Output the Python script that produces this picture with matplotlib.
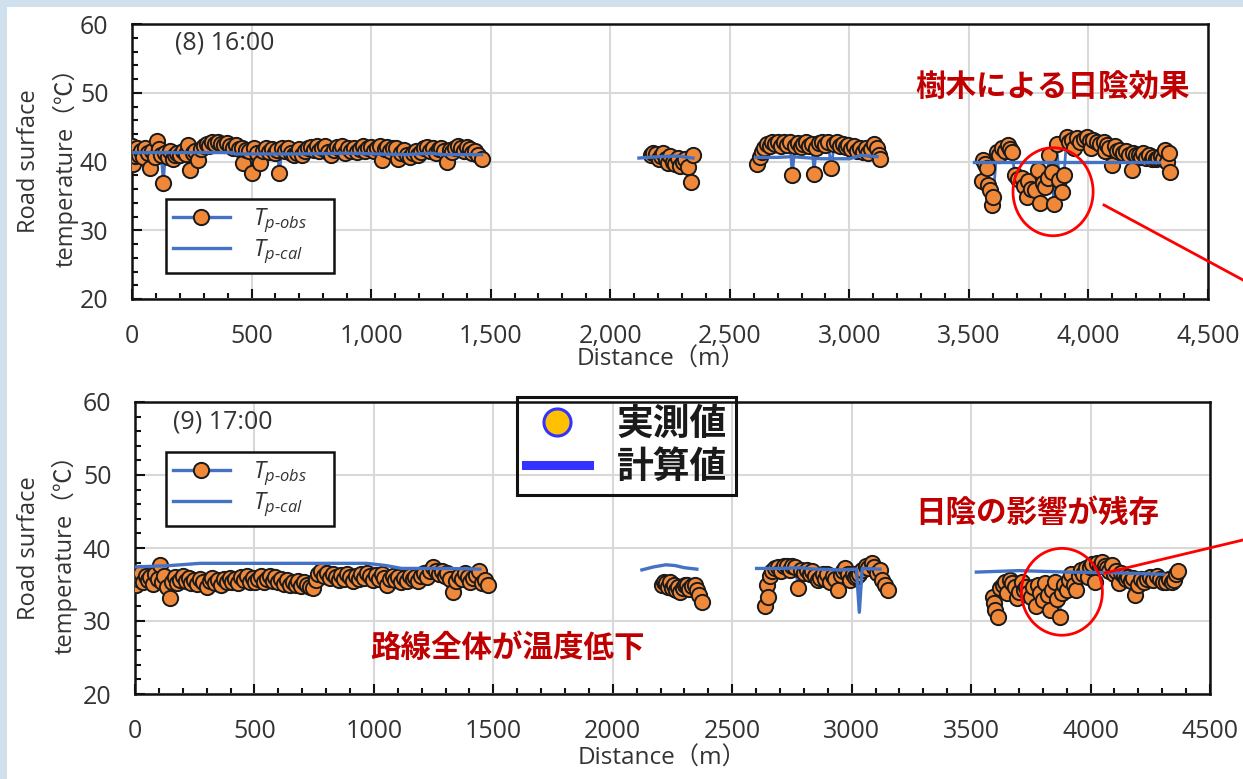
import numpy as np
import matplotlib
matplotlib.use("Agg")
import matplotlib.pyplot as plt
from matplotlib.lines import Line2D
from matplotlib.patches import Ellipse, Rectangle
from matplotlib.ticker import MultipleLocator, FuncFormatter

plt.rcParams['font.family'] = ['Open Sans', 'Noto Sans CJK JP', 'DejaVu Sans']
plt.rcParams['mathtext.fontset'] = 'custom'
plt.rcParams['mathtext.rm'] = 'Open Sans'
plt.rcParams['mathtext.it'] = 'Open Sans:italic'

# ---- road surface temperature, 16:00 (distance m, deg C), one list per road section ----
obs16 = [
    [(0, 42.2), (5, 39.7), (12, 40.8), (20, 42.0), (28, 41.0), (36, 41.6), (45, 40.6), (55, 41.9),
     (65, 41.2), (75, 39.0), (85, 41.5), (95, 40.6), (103, 43.0), (112, 41.8), (122, 40.9), (131, 36.9),
     (140, 41.2), (150, 40.6), (160, 41.5), (170, 40.3), (180, 41.0), (190, 41.3), (200, 40.9), (212, 41.5),
     (224, 41.1), (236, 42.4), (243, 38.8), (255, 41.2), (265, 41.6), (276, 40.2), (288, 41.8), (300, 42.3),
     (312, 42.6), (324, 42.2), (336, 42.8), (348, 42.5), (360, 42.9), (372, 42.6), (384, 42.4), (396, 42.7),
     (410, 42.2), (422, 41.9), (434, 42.4), (446, 41.8), (458, 42.0), (466, 39.8), (478, 41.7), (490, 41.5),
     (500, 38.3), (512, 41.9), (524, 41.3), (535, 39.8), (547, 41.6), (560, 42.0), (572, 41.4), (584, 41.8),
     (596, 41.3), (608, 41.7), (616, 38.3), (628, 41.9), (640, 41.5), (652, 42.0), (664, 41.3), (676, 40.9),
     (688, 41.2), (700, 41.8), (712, 41.0), (724, 41.5), (736, 41.9), (748, 42.1), (760, 41.7), (772, 42.2),
     (784, 41.6), (796, 42.0), (808, 42.3), (820, 41.4), (832, 40.9), (844, 41.7), (856, 42.1), (868, 41.8),
     (880, 42.2), (892, 41.3), (904, 41.9), (916, 41.6), (928, 42.0), (940, 41.4), (952, 41.8), (964, 42.2),
     (976, 41.5), (988, 41.9), (1000, 42.1), (1012, 41.6), (1024, 41.9), (1036, 42.2), (1044, 40.2),
     (1056, 41.8), (1068, 42.1), (1080, 41.5), (1092, 41.9), (1104, 42.0), (1114, 40.3), (1126, 41.2),
     (1138, 41.7), (1150, 41.0), (1162, 40.6), (1174, 41.2), (1186, 41.6), (1198, 41.0), (1210, 41.4),
     (1222, 41.9), (1234, 42.1), (1246, 41.6), (1258, 42.0), (1270, 41.3), (1282, 41.8), (1294, 42.0),
     (1306, 41.5), (1316, 40.0), (1328, 41.7), (1340, 41.4), (1352, 41.9), (1364, 42.2), (1376, 42.0),
     (1388, 41.6), (1400, 42.1), (1412, 41.8), (1424, 41.2), (1436, 41.5), (1448, 40.9), (1462, 40.4)],
    [(2170, 40.9), (2180, 41.3), (2192, 41.1), (2202, 40.3), (2212, 40.8), (2222, 41.3), (2232, 40.4),
     (2242, 39.8), (2252, 40.8), (2262, 40.0), (2272, 39.6), (2282, 40.5), (2292, 39.4), (2304, 39.9),
     (2314, 40.3), (2324, 39.2), (2336, 37.0), (2346, 40.9)],
    [(2615, 39.7), (2625, 40.6), (2635, 41.4), (2645, 42.0), (2655, 42.6), (2667, 42.2), (2678, 42.9),
     (2690, 42.5), (2702, 42.9), (2714, 42.3), (2726, 42.8), (2738, 42.4), (2750, 42.9), (2762, 38.0),
     (2772, 42.2), (2784, 42.7), (2796, 42.1), (2808, 42.6), (2820, 42.9), (2832, 42.3), (2844, 42.6),
     (2852, 38.2), (2862, 42.0), (2874, 42.7), (2886, 42.9), (2898, 42.4), (2910, 42.8), (2925, 39.1),
     (2936, 42.5), (2948, 42.9), (2960, 42.3), (2972, 42.6), (2984, 42.1), (2996, 42.4), (3008, 41.8),
     (3020, 42.2), (3032, 41.6), (3044, 42.0), (3056, 41.4), (3068, 41.9), (3080, 41.3), (3092, 41.8),
     (3104, 42.6), (3114, 42.0), (3122, 40.9), (3128, 40.3)],
    [(3553, 37.1), (3561, 40.2), (3568, 39.6), (3575, 39.0), (3581, 36.6), (3588, 35.8), (3595, 33.7),
     (3602, 34.9), (3616, 41.4), (3627, 41.0), (3637, 41.9), (3650, 41.6), (3665, 42.4), (3672, 41.8),
     (3679, 41.4), (3693, 38.0), (3705, 37.4), (3721, 37.6), (3731, 36.5), (3741, 34.8), (3749, 37.1),
     (3760, 36.0), (3777, 35.9), (3790, 38.8), (3798, 34.0), (3810, 36.9), (3818, 36.3), (3830, 37.6),
     (3833, 40.9), (3846, 38.5), (3856, 33.8), (3867, 42.6), (3878, 37.3), (3888, 35.5), (3898, 38.0),
     (3909, 43.6), (3920, 42.8), (3930, 43.2), (3940, 41.9), (3951, 43.4), (3965, 42.9), (3980, 43.3),
     (3993, 43.6), (4005, 43.0), (4010, 42.0), (4020, 43.2), (4035, 42.9), (4050, 42.6), (4063, 42.9),
     (4070, 41.5), (4077, 42.4), (4088, 42.0), (4098, 39.5), (4110, 42.2), (4120, 41.6), (4132, 41.7),
     (4145, 41.3), (4158, 41.5), (4170, 41.0), (4181, 38.8), (4188, 41.2), (4200, 40.9), (4212, 41.0),
     (4220, 40.6), (4230, 41.2), (4242, 40.5), (4255, 40.9), (4265, 40.4), (4272, 40.7), (4282, 40.3),
     (4292, 40.5), (4302, 40.8), (4310, 40.4), (4321, 41.7), (4328, 40.0), (4335, 41.2), (4342, 38.5)],
]
cal16 = [
    [(0, 41.3), (120, 41.3), (300, 41.3), (420, 41.3), (430, 41.1), (700, 41.1), (900, 41.2),
     (1150, 41.0), (1250, 41.2), (1300, 41.0), (1462, 41.0)],
    [(2120, 40.5), (2200, 40.7), (2280, 40.8), (2346, 40.5)],
    [(2610, 40.6), (2700, 40.6), (2760, 40.7), (2880, 40.4), (3000, 40.4), (3050, 40.9), (3116, 40.7)],
    [(3522, 40.0), (3700, 40.0), (3900, 40.0), (4100, 40.0), (4296, 40.0)],
]

# ---- road surface temperature, 17:00 ----
obs17 = [
    [(0, 36.3), (5, 34.9), (14, 35.8), (24, 36.6), (34, 35.4), (44, 36.2), (54, 35.6), (64, 36.0),
     (74, 35.1), (84, 36.4), (95, 35.7), (105, 37.7), (114, 35.3), (122, 36.1), (132, 34.6), (146, 33.1),
     (156, 35.4), (166, 36.0), (176, 35.2), (188, 35.6), (200, 36.2), (212, 35.5), (224, 35.9), (236, 35.2),
     (248, 35.6), (260, 35.1), (272, 35.8), (286, 35.3), (300, 34.7), (312, 35.5), (324, 35.9), (336, 35.2),
     (348, 35.6), (360, 35.0), (372, 35.7), (384, 35.4), (396, 35.9), (408, 35.3), (420, 35.8), (432, 35.2),
     (444, 36.0), (456, 35.6), (468, 36.2), (480, 35.4), (492, 35.9), (504, 35.3), (516, 35.7), (528, 36.1),
     (540, 35.4), (552, 35.8), (564, 36.2), (576, 35.5), (588, 36.0), (600, 35.3), (612, 35.7), (624, 35.1),
     (636, 35.6), (648, 34.9), (660, 35.4), (672, 35.0), (684, 35.5), (696, 34.8), (708, 35.3), (720, 35.0),
     (732, 34.6), (744, 34.5), (756, 35.6), (768, 36.4), (780, 36.8), (792, 36.2), (804, 36.6), (816, 35.9),
     (828, 36.5), (840, 36.0), (852, 35.6), (864, 36.3), (876, 35.8), (888, 36.4), (900, 36.0), (912, 35.5),
     (924, 36.2), (936, 35.7), (948, 36.4), (960, 35.9), (972, 36.6), (984, 36.1), (996, 35.6), (1008, 36.3),
     (1020, 35.8), (1032, 36.4), (1044, 35.9), (1054, 34.9), (1066, 35.7), (1078, 36.2), (1090, 35.6),
     (1102, 36.0), (1114, 35.4), (1126, 35.9), (1138, 35.5), (1150, 36.1), (1162, 35.7), (1174, 36.0),
     (1186, 35.5), (1198, 36.2), (1210, 36.6), (1222, 36.0), (1234, 36.8), (1248, 37.4), (1260, 36.9),
     (1272, 36.4), (1284, 36.9), (1296, 36.2), (1308, 36.6), (1320, 35.8), (1333, 34.0), (1344, 35.5),
     (1356, 36.1), (1368, 35.7), (1380, 36.6), (1392, 36.0), (1404, 35.4), (1416, 35.9), (1428, 36.3),
     (1440, 36.8), (1451, 35.2), (1466, 35.6), (1479, 34.9)],
    [(2205, 35.0), (2215, 35.4), (2222, 35.2), (2232, 34.7), (2240, 35.4), (2247, 34.5), (2257, 34.9),
     (2265, 34.2), (2274, 34.6), (2282, 34.0), (2292, 34.5), (2302, 34.9), (2310, 35.0), (2320, 34.4),
     (2330, 34.8), (2345, 35.0), (2352, 34.3), (2359, 33.6), (2372, 32.6)],
    [(2637, 32.0), (2644, 35.0), (2651, 33.3), (2658, 36.1), (2668, 36.8), (2680, 37.3), (2693, 37.4),
     (2705, 36.9), (2716, 37.6), (2728, 37.6), (2740, 37.0), (2752, 37.5), (2763, 37.4), (2777, 34.5),
     (2788, 37.0), (2800, 36.6), (2812, 37.0), (2824, 36.4), (2836, 36.8), (2848, 36.2), (2857, 35.6),
     (2867, 35.9), (2878, 36.5), (2888, 35.8), (2898, 36.4), (2909, 35.4), (2920, 36.2), (2932, 35.8),
     (2944, 34.2), (2956, 36.3), (2965, 36.9), (2972, 37.2), (2983, 36.5), (2993, 35.6), (3005, 36.4),
     (3015, 36.0), (3021, 36.1), (3032, 36.5), (3045, 37.0), (3058, 37.5), (3070, 37.2), (3084, 37.9),
     (3095, 37.4), (3106, 36.6), (3119, 37.0), (3126, 35.6), (3140, 35.0), (3153, 34.2)],
    [(3591, 33.3), (3597, 32.4), (3602, 31.5), (3612, 30.6), (3621, 34.5), (3632, 35.0), (3642, 35.4),
     (3652, 33.8), (3662, 35.6), (3672, 35.2), (3682, 34.6), (3691, 33.1), (3700, 34.0), (3712, 35.3),
     (3722, 34.2), (3731, 34.7), (3740, 33.8), (3750, 33.3), (3760, 34.6), (3770, 32.0), (3780, 35.0),
     (3790, 33.8), (3800, 32.9), (3810, 35.2), (3820, 33.5), (3830, 31.5), (3840, 34.3), (3850, 35.4),
     (3860, 33.0), (3870, 30.6), (3880, 33.8), (3890, 35.0), (3900, 34.2), (3910, 35.6), (3920, 36.4),
     (3930, 35.0), (3940, 34.2), (3950, 36.2), (3960, 37.0), (3969, 36.5), (3980, 37.2), (3990, 36.0),
     (3998, 37.4), (4008, 37.8), (4019, 35.3), (4029, 37.9), (4040, 37.5), (4049, 38.1), (4060, 37.6),
     (4070, 37.2), (4079, 36.8), (4088, 37.7), (4098, 36.4), (4108, 36.9), (4118, 35.2), (4128, 36.6),
     (4138, 36.2), (4148, 35.8), (4158, 36.0), (4168, 35.5), (4178, 35.9), (4188, 33.6), (4198, 35.0),
     (4210, 35.8), (4222, 35.3), (4237, 35.7), (4250, 36.0), (4262, 35.6), (4277, 36.2), (4290, 35.8),
     (4305, 35.4), (4317, 35.3), (4330, 35.7), (4342, 35.4), (4350, 35.6), (4356, 36.4), (4368, 36.8)],
]
cal17 = [
    [(0, 37.4), (150, 37.6), (272, 37.9), (600, 37.9), (970, 37.9), (1050, 37.6), (1116, 37.2),
     (1300, 37.2), (1444, 37.1)],
    [(2122, 37.0), (2170, 37.4), (2222, 37.7), (2260, 37.6), (2300, 37.3), (2352, 37.1)],
    [(2602, 37.2), (2700, 37.2), (2780, 37.3), (2850, 37.1), (2950, 37.0), (3020, 37.1), (3032, 31.2),
     (3044, 37.2), (3119, 37.1)],
    [(3522, 36.7), (3700, 36.9), (3900, 36.7), (4100, 36.6), (4306, 36.4)],
]

BLUE = '#4472c4'
ORANGE = '#f0883a'
RED_TXT = '#c00000'
GREY_TXT = '#333333'

fig = plt.figure(figsize=(12.43, 7.79), dpi=100)
fig.patch.set_facecolor('#cfe0ee')
fig.add_artist(Rectangle((7 / 1243, 0), 1, 1 - 7 / 779, transform=fig.transFigure,
                         facecolor='white', edgecolor='none', zorder=-10))

ax1 = fig.add_axes([132 / 1243, 1 - 299 / 779, 1076 / 1243, 275 / 779])
ax2 = fig.add_axes([135 / 1243, 1 - 694 / 779, 1075 / 1243, 292 / 779])


def draw(ax, obs, cal):
    for seg in obs:
        x, t = zip(*seg)
        ax.plot(x, t, color=BLUE, lw=2, marker='o', ms=11, mfc=ORANGE, mec='#1a1a1a', mew=1.4, zorder=3)
    for seg in cal:
        x, t = zip(*seg)
        ax.plot(x, t, color=BLUE, lw=2.4, zorder=4)


def style(ax, comma):
    ax.set_xlim(0, 4500)
    ax.set_ylim(20, 60)
    ax.xaxis.set_major_locator(MultipleLocator(500))
    ax.xaxis.set_minor_locator(MultipleLocator(100))
    ax.yaxis.set_major_locator(MultipleLocator(10))
    ax.yaxis.set_minor_locator(MultipleLocator(2))
    ax.grid(which='major', color='#d9d9d9', lw=1.5)
    ax.set_axisbelow(True)
    ax.tick_params(which='both', direction='in', width=1.5, color='#111111',
                   labelcolor=GREY_TXT, labelsize=18)
    ax.tick_params(which='major', length=7)
    ax.tick_params(which='minor', length=4.5)
    ax.tick_params(axis='x', pad=18)
    ax.tick_params(axis='y', pad=17)
    for s in ax.spines.values():
        s.set_linewidth(1.8)
        s.set_color('#111111')
    if comma:
        ax.xaxis.set_major_formatter(FuncFormatter(lambda v, p: f'{v:,.0f}'))
    ax.set_xlabel('Distance（m）', fontsize=17.5, color=GREY_TXT)
    ax.set_ylabel('Road surface\ntemperature（℃）', fontsize=17, color=GREY_TXT, linespacing=1.55)


draw(ax1, obs16, cal16)
draw(ax2, obs17, cal17)
style(ax1, True)
style(ax2, False)
ax1.xaxis.set_label_coords(0.492, -0.178)
ax2.xaxis.set_label_coords(0.490, -0.182)
ax1.yaxis.set_label_coords(-0.050, 0.5)
ax2.yaxis.set_label_coords(-0.053, 0.5)

ax1.text(0.040, 0.931, '(8) 16:00', transform=ax1.transAxes, va='center', fontsize=18, color=GREY_TXT)
ax2.text(0.035, 0.932, '(9) 17:00', transform=ax2.transAxes, va='center', fontsize=18, color=GREY_TXT)

# series legend inside each panel
series_handles = [
    Line2D([], [], color=BLUE, lw=2.4, marker='o', ms=11, mfc=ORANGE, mec='#1a1a1a', mew=1.4),
    Line2D([], [], color=BLUE, lw=2.4),
]
series_labels = [r'$T_{p\text{-}obs}$    ', r'$T_{p\text{-}cal}$    ']
for ax, anchor in ((ax1, (0.0316, 0.3636)), (ax2, (0.0288, 0.8288))):
    leg = ax.legend(series_handles, series_labels, loc='upper left', bbox_to_anchor=anchor,
                    borderaxespad=0, fancybox=False, edgecolor='#111111', framealpha=1,
                    fontsize=17, handlelength=2.4, handletextpad=1.0, labelspacing=0.12,
                    borderpad=0.3, labelcolor=GREY_TXT)
    leg.get_frame().set_linewidth(1.8)

# shaded stretch
ax1.add_patch(Ellipse((3852, 35.6), 335, 12.8, fill=False, ec='#ff0000', lw=2, zorder=6))
ax2.add_patch(Ellipse((3880, 34.0), 339, 11.9, fill=False, ec='#ff0000', lw=2, zorder=6))
fig.add_artist(Line2D([1104 / 1243, 1.0], [1 - 205 / 779, 1 - 280 / 779], color='#ff0000', lw=2))
fig.add_artist(Line2D([1105 / 1243, 1.0], [1 - 573 / 779, 1 - 540 / 779], color='#ff0000', lw=2))

note = dict(color=RED_TXT, fontsize=22, fontweight='bold', family=['Noto Sans CJK JP'], va='center', ha='left')
fig.text(915 / 1243, 1 - 88 / 779, '樹木による日陰効果', **note)
fig.text(915 / 1243, 1 - 513 / 779, '日陰の影響が残存', **note)
fig.text(370 / 1243, 1 - 648 / 779, '路線全体が温度低下', **note)

# observed / calculated key
key_handles = [
    Line2D([], [], ls='none', marker='o', ms=19.5, mfc='#ffc000', mec='#3333ff', mew=2.2),
    Line2D([], [], color='#3333ff', lw=6.5),
]
key = fig.legend(key_handles, ['実測値', '計算値'], loc='upper left',
                 bbox_to_anchor=(517 / 1243, 1 - 397 / 779), borderaxespad=0,
                 prop={'family': 'Noto Sans CJK JP', 'weight': 'bold', 'size': 26.5},
                 fancybox=False, edgecolor='#111111', facecolor='none', framealpha=0,
                 handlelength=1.7, handletextpad=0.75, labelspacing=0.15, borderpad=0.25,
                 labelcolor='#1a1a1a')
key.get_frame().set_linewidth(2.2)
key.get_frame().set_alpha(None)
key.get_frame().set_facecolor('none')

fig.savefig('out.png', dpi=100, facecolor=fig.get_facecolor())
